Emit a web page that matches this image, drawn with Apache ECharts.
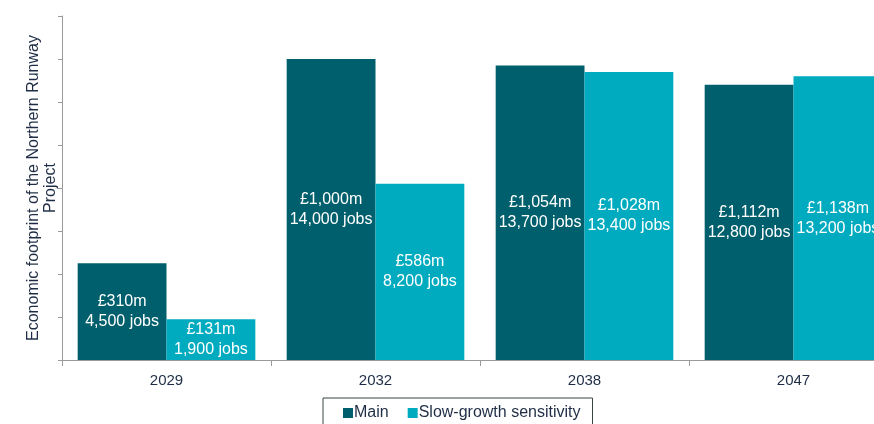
<!DOCTYPE html>
<html>
<head>
<meta charset="utf-8">
<script src="https://cdn.jsdelivr.net/npm/echarts@6/dist/echarts.min.js"></script>
<style>
  html, body { margin: 0; padding: 0; background: #fff; overflow: hidden; }
  #chart { width: 900px; height: 424px; }
</style>
</head>
<body>
<div id="chart"></div>
<script>
// Economic footprint of the Northern Runway Project by year
const categories = ['2029', '2032', '2038', '2047'];
const mainJobs = [4500, 14000, 13700, 12800];
const mainGbpM = [310, 1000, 1054, 1112];
const slowJobs = [1900, 8200, 13400, 13200];
const slowGbpM = [131, 586, 1028, 1138];

const fmt = n => n.toLocaleString('en-GB');
const labelFor = gbp => p => '£' + fmt(gbp[p.dataIndex]) + 'm\n' + fmt(p.value) + ' jobs';

const textColor = '#1e2d45';
const font = 'Liberation Sans, Arial, sans-serif';

const chart = echarts.init(document.getElementById('chart'));
chart.setOption({
  animation: false,
  textStyle: { fontFamily: font },
  grid: { left: 62, top: 16, bottom: 64, width: 836, outerBoundsMode: 'none', containLabel: false },
  legend: {
    left: 323, top: 398,
    padding: [7, 12, 8, 20],
    borderWidth: 1, borderColor: '#3a4646',
    icon: 'rect', itemWidth: 10, itemHeight: 10, itemGap: 19,
    textStyle: { color: textColor, fontSize: 16, fontFamily: font, padding: [0, 0, 0, -4] },
    data: ['Main', 'Slow-growth sensitivity']
  },
  xAxis: {
    type: 'category',
    data: categories,
    axisLine: { lineStyle: { color: '#9a9a9a', width: 1 } },
    axisTick: { show: true, length: 6, lineStyle: { color: '#9a9a9a' } },
    axisLabel: { color: textColor, fontSize: 15, margin: 13 }
  },
  yAxis: {
    type: 'value',
    min: 0, max: 16000, interval: 2000,
    name: 'Economic footprint of the Northern Runway\nProject',
    nameLocation: 'middle', nameRotate: 90, nameGap: 3,
    nameTextStyle: { color: textColor, fontSize: 16, lineHeight: 17, align: 'center' },
    axisLine: { show: true, lineStyle: { color: '#9a9a9a', width: 1 } },
    axisTick: { show: true, length: 4, lineStyle: { color: '#9a9a9a' } },
    axisLabel: { show: false },
    splitLine: { show: false }
  },
  series: [
    {
      name: 'Main', type: 'bar', data: mainJobs,
      barGap: 0, barCategoryGap: '15%',
      itemStyle: { color: '#005f6c' },
      label: { show: true, position: 'inside', color: '#fff', fontSize: 16, lineHeight: 20, formatter: labelFor(mainGbpM) }
    },
    {
      name: 'Slow-growth sensitivity', type: 'bar', data: slowJobs,
      itemStyle: { color: '#00abbf' },
      label: { show: true, position: 'inside', color: '#fff', fontSize: 16, lineHeight: 20, formatter: labelFor(slowGbpM) }
    }
  ]
});
</script>
</body>
</html>
